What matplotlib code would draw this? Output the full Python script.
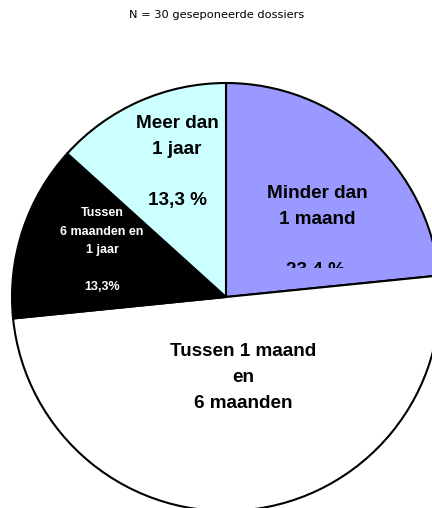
import matplotlib
matplotlib.use('Agg')
import matplotlib.pyplot as plt
from matplotlib.patches import Rectangle

# duration categories (clockwise from the top)
categories = ["Minder dan\n1 maand", "Tussen 1 maand\nen\n6 maanden",
              "Tussen\n6 maanden en\n1 jaar", "Meer dan\n1 jaar"]
shares = [23.4, 50.0, 13.3, 13.3]
colors = ["#9999FF", "#FFFFFF", "#000000", "#CCFFFF"]
title = "N = 30 geseponeerde dossiers"

W, H = 432, 508
fig = plt.figure(figsize=(W / 100, H / 100), dpi=100)
ax = fig.add_axes([0, 0, 1, 1])

# pie is larger than the canvas and gets cut at right and bottom
cx, cy, r = 226, H - 297, 214
wedges, _ = ax.pie(shares, colors=colors, startangle=90, counterclock=False,
                   center=(cx, cy), radius=r,
                   wedgeprops=dict(edgecolor="black", linewidth=1.5))
ax.set_xlim(0, W)
ax.set_ylim(0, H)
ax.set_aspect('equal')
ax.axis('off')

big = dict(family="Liberation Sans", fontweight="bold", fontsize=13.6,
           ha="center", va="center")
small = dict(family="Liberation Sans", fontweight="bold", fontsize=9,
             ha="center", va="center", color="white")

def put_lines(lines, x, ys, **kw):
    out = []
    for s, y in zip(lines, ys):
        out.append(ax.text(x, H - y, s, **kw))
    return out

# purple slice (percentage is cut off in the original)
put_lines(categories[0].split("\n"), 317, [193, 220], **big)
pct = ax.text(316, H - 271, f"{shares[0]:.1f} %".replace(".", ","), **big)
pct.set_clip_on(True)
pct.set_clip_path(Rectangle((0, H - 268), W, 268, transform=ax.transData))

# white slice
put_lines(categories[1].split("\n"), 243, [352, 378, 404], **big)

# black slice
put_lines(categories[2].split("\n") + [f"{shares[2]:.1f}%".replace(".", ",")],
          102, [213, 232, 250, 287], **small)

# cyan slice
put_lines(categories[3].split("\n") + [f"{shares[3]:.1f} %".replace(".", ",")],
          177, [123, 149, 200], **big)

fig.text(217 / W, 1 - 15 / H, title, family="DejaVu Sans", fontsize=8.2,
         ha="center", va="center")

fig.savefig("out.png", dpi=100)
plt.close(fig)
